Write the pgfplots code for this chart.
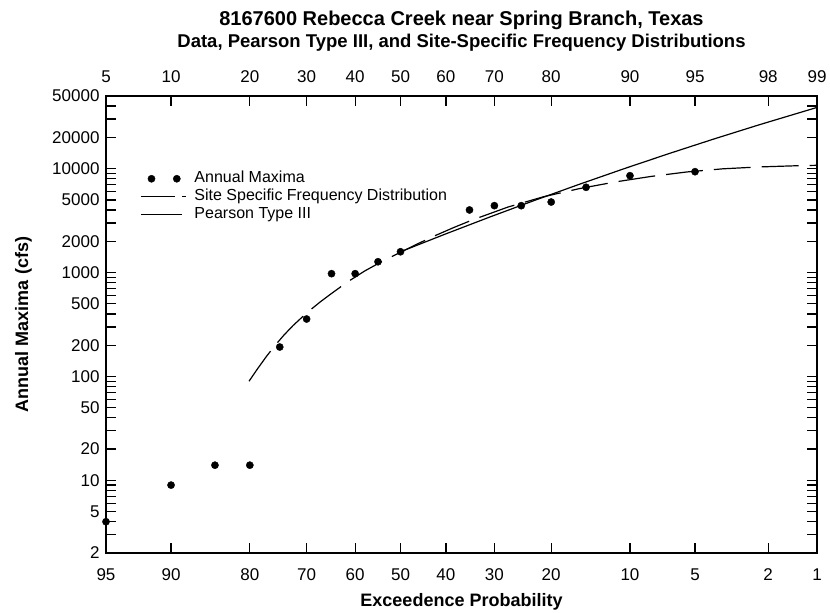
\documentclass[border=0pt]{standalone}
\usepackage{fontspec}
\setmainfont{Liberation Sans}
\usepackage{pgfplots}
\pgfplotsset{compat=1.18}

% x coordinate = standard normal variate of the non-exceedance probability
\pgfplotstableread{
z      q
-1.6449 4
-1.2816 9
-1.0364 14
-0.8416 14
-0.6745 192
-0.5244 357
-0.3853 975
-0.2533 975
-0.1257 1270
0.0000 1585
0.3853 4000
0.5244 4400
0.6745 4400
0.8416 4770
1.0364 6610
1.2816 8550
1.6449 9340
}\annualmax

\pgfplotstableread{
z      q
-0.846 90
-0.80 117.5
-0.75 154.9
-0.70 199.5
-0.65 251.2
-0.60 309.0
-0.55 371.5
-0.50 441.6
-0.45 518.8
-0.40 602.6
-0.30 803.5
-0.20 1035
-0.10 1288
0.00 1567
0.10 1905
0.20 2291
0.30 2723
0.40 3199
0.60 4266
0.80 5370
1.00 6427
1.20 7447
1.40 8414
1.60 9290
1.80 9954
2.00 10375
2.20 10641
2.3263 10765
}\sitespecific

\pgfplotstableread{
z      q
0.00 1585
0.25 2344
0.50 3428
0.75 4955
1.00 7079
1.25 10000
1.50 13964
1.75 19275
2.00 26303
2.3263 38815
}\pearson

\begin{document}
\begin{tikzpicture}[x=1bp,y=1bp]
\path[use as bounding box] (0,0) rectangle (830,613);
\begin{axis}[
  at={(106bp,60bp)}, anchor=south west,
  scale only axis, width=711bp, height=457bp,
  xmin=-1.6449, xmax=2.3263,
  ymode=log, ymin=2, ymax=50000,
  clip=false,
  axis line style={line width=1.8bp},
  every tick/.style={black, line width=1.3bp},
  tick align=inside,
  major tick length=10bp, minor tick length=10bp,
  xtick={-1.6449,-1.2816,-0.8416,-0.5244,-0.2533,0,0.2533,0.5244,0.8416,1.2816,1.6449,2.0537,2.3263},
  xticklabels={95,90,80,70,60,50,40,30,20,10,5,2,1},
  ytick={2,5,10,20,50,100,200,500,1000,2000,5000,10000,20000,50000},
  yticklabels={2,5,10,20,50,100,200,500,1000,2000,5000,10000,20000,50000},
  minor ytick={3,4,6,7,8,9,30,40,60,70,80,90,300,400,600,700,800,900,3000,4000,6000,7000,8000,9000,30000,40000},
  ticklabel style={font=\fontsize{17bp}{17bp}\selectfont},
  xticklabel shift=12bp,
  yticklabel shift=3bp,
  xlabel={\textbf{Exceedence Probability}},
  xlabel style={font=\fontsize{18bp}{18bp}\selectfont, at={(axis description cs:0.5,-0.116)}, anchor=base},
  ylabel={\textbf{Annual Maxima (cfs)}},
  ylabel style={font=\fontsize{18bp}{18bp}\selectfont, at={(axis description cs:-0.116,0.5)}, anchor=center},
  legend style={draw=none, fill=none, anchor=north west, at={(0.0488,0.839)}, inner sep=0pt,
    row sep=0pt, font=\fontsize{16bp}{16bp}\selectfont,
    nodes={inner sep=2bp, text height=11bp, text depth=3bp}},
  legend cell align=left,
]
\addplot[only marks, mark=*, mark size=3.6bp, black,
  legend image code/.code={\path[draw=none] (0bp,0bp) -- (51bp,0bp); \fill (10bp,0bp) circle (3.6bp); \fill (35.3bp,0bp) circle (3.6bp);}]
  table[x=z,y=q] {\annualmax};
\addlegendentry{Annual Maxima}
\addplot[black, line width=1.2bp, dash pattern=on 37bp off 11bp,
  legend image code/.code={\path[draw=none] (0bp,0bp) -- (51bp,0bp); \draw[line width=1.2bp, dash pattern=on 34bp off 7bp] (0bp,0bp) -- (45bp,0bp);}]
  table[x=z,y=q] {\sitespecific};
\addlegendentry{Site Specific Frequency Distribution}
\addplot[black, line width=1.2bp,
  legend image code/.code={\path[draw=none] (0bp,0bp) -- (51bp,0bp); \draw[line width=1.2bp] (0bp,0bp) -- (41bp,0bp);}]
  table[x=z,y=q] {\pearson};
\addlegendentry{Pearson Type III}
\end{axis}
\begin{axis}[
  at={(106bp,60bp)}, anchor=south west,
  scale only axis, width=711bp, height=457bp,
  xmin=-1.6449, xmax=2.3263,
  ymin=0, ymax=1,
  hide y axis,
  axis x line*=top,
  axis line style={draw=none},
  major tick length=0bp,
  xtick={-1.6449,-1.2816,-0.8416,-0.5244,-0.2533,0,0.2533,0.5244,0.8416,1.2816,1.6449,2.0537,2.3263},
  xticklabels={5,10,20,30,40,50,60,70,80,90,95,98,99},
  ticklabel style={font=\fontsize{17bp}{17bp}\selectfont},
  xticklabel shift=10bp,
]
\end{axis}
\node[font=\bfseries\fontsize{20bp}{20bp}\selectfont, anchor=base] at (461.5,587) {8167600 Rebecca Creek near Spring Branch, Texas};
\node[font=\bfseries\fontsize{18.5bp}{18.5bp}\selectfont, anchor=base] at (461.5,565) {Data, Pearson Type III, and Site-Specific Frequency Distributions};
\end{tikzpicture}
\end{document}
